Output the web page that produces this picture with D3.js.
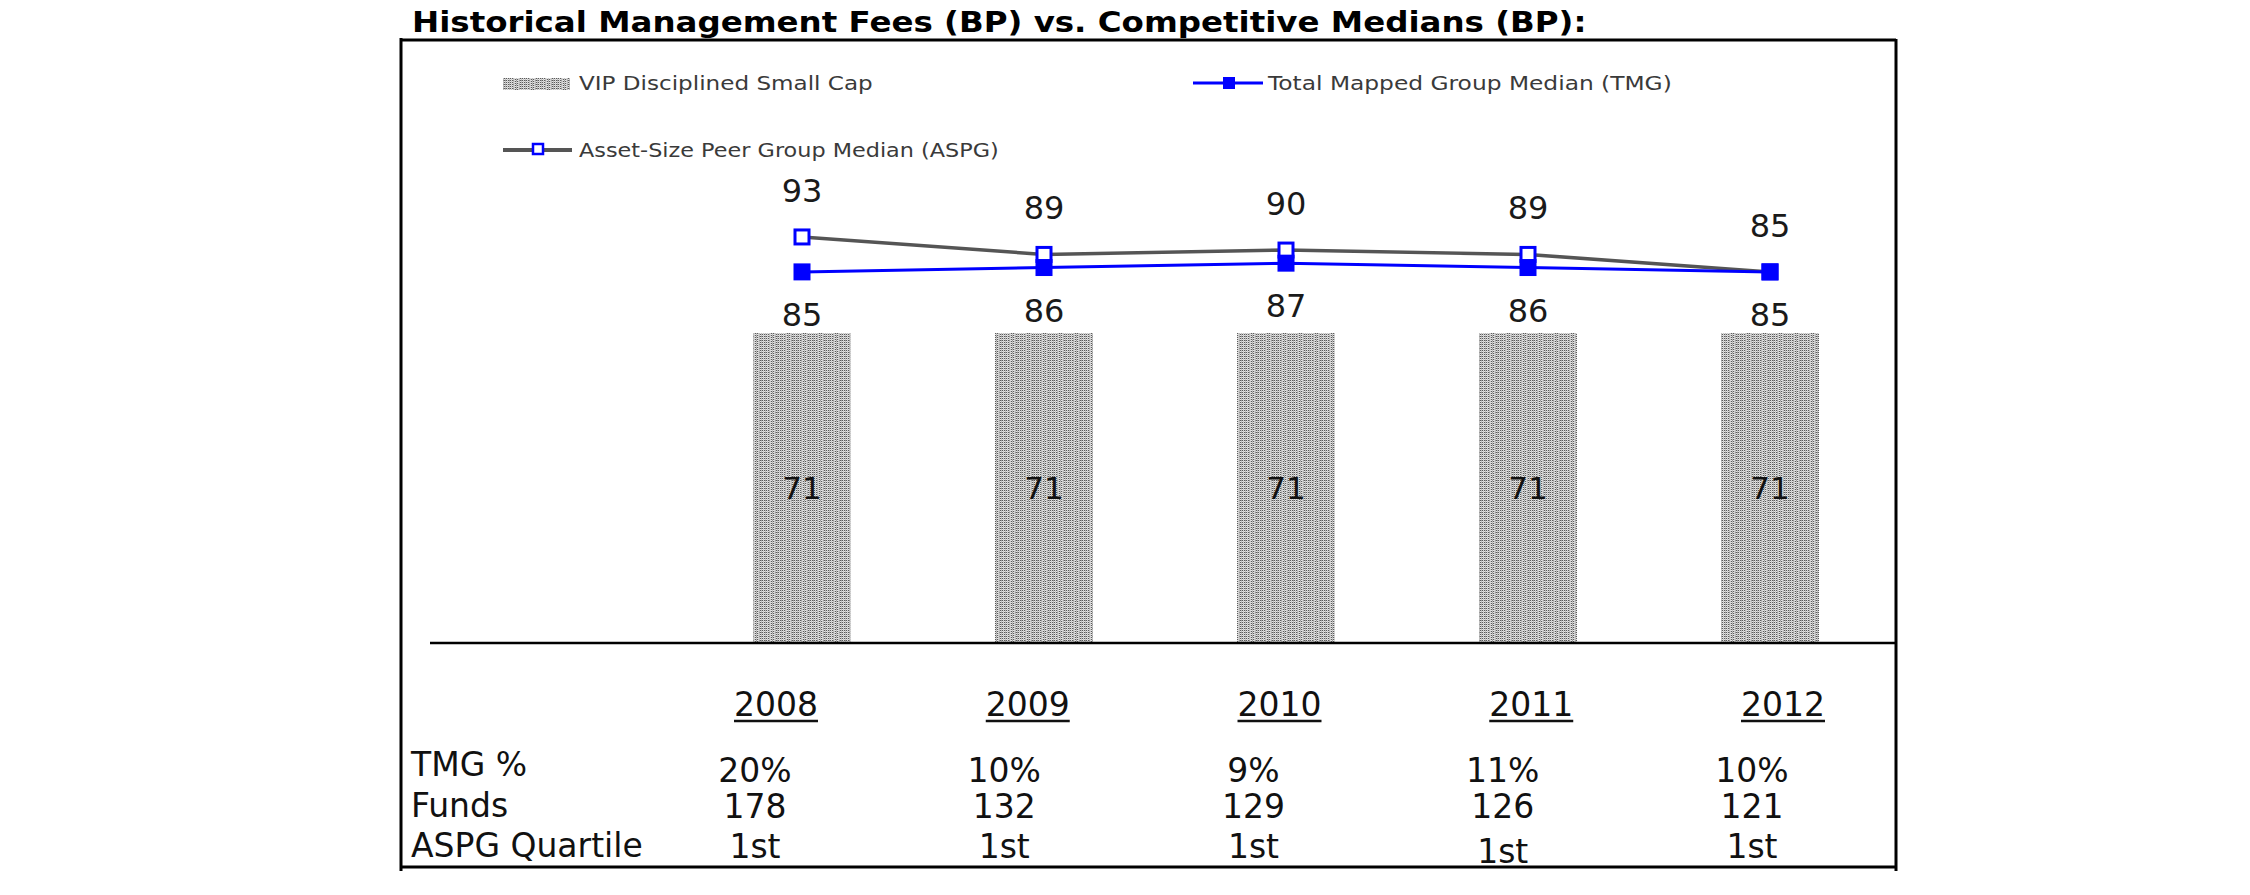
<!DOCTYPE html>
<html>
<head>
<meta charset="utf-8">
<script src="https://cdn.jsdelivr.net/npm/d3@7"></script>
<style>
  html, body { margin: 0; padding: 0; background: #fff; }
  svg { display: block; }
  text { font-family: "DejaVu Sans", Verdana, sans-serif; }
</style>
</head>
<body>
<script>
// ---------------- data ----------------
const years = ["2008", "2009", "2010", "2011", "2012"];
const vipFees = [71, 71, 71, 71, 71];          // VIP Disciplined Small Cap (bars)
const tmgMedian = [85, 86, 87, 86, 85];        // Total Mapped Group Median
const aspgMedian = [93, 89, 90, 89, 85];       // Asset-Size Peer Group Median
const tmgPct = ["20%", "10%", "9%", "11%", "10%"];
const funds = ["178", "132", "129", "126", "121"];
const aspgQuartile = ["1st", "1st", "1st", "1st", "1st"];
const rowLabels = ["TMG %", "Funds", "ASPG Quartile"];
const titleText = "Historical Management Fees (BP) vs. Competitive Medians (BP):";
const legendLabels = ["VIP Disciplined Small Cap", "Total Mapped Group Median (TMG)", "Asset-Size Peer Group Median (ASPG)"];

// ---------------- layout ----------------
const W = 2250, H = 895;
const svg = d3.select("body").append("svg").attr("width", W).attr("height", H);

const frame = { left: 401, right: 1896, top: 40, bottom: 867 };
const axisY = 643;

const x = d3.scaleBand().domain(years).range([681, 1891]).paddingInner(0.595).paddingOuter(0.2975);
const y = d3.scaleLinear().domain([0, 100]).range([axisY, axisY - 436.6]);
const xYear = d3.scalePoint().domain(years).range([776, 1783]);
const xVal = d3.scalePoint().domain(years).range([755, 1752]);

// dithered grey pattern for bars
const defs = svg.append("defs");
const pw = 16, ph = 8;
const pat = defs.append("pattern").attr("id", "dots").attr("patternUnits", "userSpaceOnUse")
  .attr("width", pw).attr("height", ph);
pat.append("rect").attr("width", pw).attr("height", ph).attr("fill", "#cfcfcf");
// column styles: 'c' = checker dark/light, 's' = solid mid grey, 'l' = light
const colKinds = ["c", "s", "l", "c", "s", "c", "l", "s", "c", "s", "c", "l", "c", "s", "c", "l"];
colKinds.forEach((k, cx) => {
  for (let r = 0; r < ph; r++) {
    let fill = null;
    if (k === "c") fill = ((r + cx) % 2 === 0) ? "#5a5a5a" : "#e6e6e6";
    else if (k === "s") fill = (r % 4 === 0) ? "#9a9a9a" : "#bdbdbd";
    else fill = (r % 2 === 0) ? "#d8d8d8" : "#c6c6c6";
    pat.append("rect").attr("x", cx).attr("y", r).attr("width", 1).attr("height", 1).attr("fill", fill);
  }
});

// fit helper: stretch text horizontally to a target width
function fitText(sel, x0, y0, targetW) {
  const w = sel.node().getComputedTextLength();
  const sx = targetW / w;
  sel.attr("x", 0).attr("y", 0).attr("transform", `translate(${x0},${y0}) scale(${sx},1)`);
}

// ---------------- title ----------------
const title = svg.append("text").text(titleText)
  .attr("font-size", 28).attr("font-weight", "bold").attr("fill", "#000");
fitText(title, 412, 32, 1175);

// ---------------- frame ----------------
const fg = svg.append("g").attr("stroke", "#000").attr("stroke-width", 3);
fg.append("line").attr("x1", frame.left).attr("x2", frame.right).attr("y1", frame.top).attr("y2", frame.top);
fg.append("line").attr("x1", frame.left).attr("x2", frame.right + 1).attr("y1", frame.bottom).attr("y2", frame.bottom);
fg.append("line").attr("x1", frame.left).attr("x2", frame.left).attr("y1", frame.top - 2).attr("y2", frame.bottom + 4);
fg.append("line").attr("x1", frame.right).attr("x2", frame.right).attr("y1", frame.top - 1).attr("y2", frame.bottom + 4);

// ---------------- bars ----------------
svg.append("g").selectAll("rect").data(years).join("rect")
  .attr("x", d => x(d)).attr("width", x.bandwidth())
  .attr("y", (d, i) => y(vipFees[i])).attr("height", (d, i) => y(0) - y(vipFees[i]))
  .attr("fill", "url(#dots)");

// x axis line
svg.append("line").attr("x1", 430).attr("x2", frame.right).attr("y1", axisY).attr("y2", axisY)
  .attr("stroke", "#000").attr("stroke-width", 2.5);

// bar labels
svg.append("g").selectAll("text").data(years).join("text")
  .attr("x", d => x(d) + x.bandwidth() / 2)
  .attr("y", (d, i) => (y(vipFees[i]) + y(0)) / 2 + 11)
  .attr("text-anchor", "middle").attr("font-size", 31).attr("fill", "#111")
  .text((d, i) => vipFees[i]);

// ---------------- lines ----------------
const cx = d => x(d) + x.bandwidth() / 2;
const lineGen = arr => d3.line().x(d => cx(d)).y((d, i) => y(arr[i]))(years);

svg.append("path").attr("d", lineGen(aspgMedian)).attr("fill", "none")
  .attr("stroke", "#555").attr("stroke-width", 3.5);
svg.append("path").attr("d", lineGen(tmgMedian)).attr("fill", "none")
  .attr("stroke", "#0000ff").attr("stroke-width", 3);

const mk = 14;
svg.append("g").selectAll("rect").data(years).join("rect")
  .attr("x", d => cx(d) - mk / 2).attr("y", (d, i) => y(aspgMedian[i]) - mk / 2)
  .attr("width", mk).attr("height", mk)
  .attr("fill", "#fff").attr("stroke", "#0000ff").attr("stroke-width", 3);
svg.append("g").selectAll("rect").data(years).join("rect")
  .attr("x", d => cx(d) - 8.5).attr("y", (d, i) => y(tmgMedian[i]) - 8.5)
  .attr("width", 17).attr("height", 17).attr("fill", "#0000ff");

// line labels
svg.append("g").selectAll("text").data(years).join("text")
  .attr("x", d => cx(d)).attr("y", (d, i) => y(aspgMedian[i]) - 47 + 12)
  .attr("text-anchor", "middle").attr("font-size", 32).attr("fill", "#1a1a1a")
  .text((d, i) => aspgMedian[i]);
svg.append("g").selectAll("text").data(years).join("text")
  .attr("x", d => cx(d)).attr("y", (d, i) => y(tmgMedian[i]) + 42 + 12)
  .attr("text-anchor", "middle").attr("font-size", 32).attr("fill", "#1a1a1a")
  .text((d, i) => tmgMedian[i]);

// ---------------- legend ----------------
const lg = svg.append("g");
lg.append("rect").attr("x", 503).attr("y", 78).attr("width", 67).attr("height", 12).attr("fill", "url(#dots)");
const l1 = lg.append("text").text(legendLabels[0]).attr("font-size", 19).attr("fill", "#3a3a3a");
fitText(l1, 579, 90, 294);

lg.append("line").attr("x1", 1193).attr("x2", 1263).attr("y1", 83).attr("y2", 83).attr("stroke", "#0000ff").attr("stroke-width", 3);
lg.append("rect").attr("x", 1223).attr("y", 77).attr("width", 12).attr("height", 12).attr("fill", "#0000ff");
const l2 = lg.append("text").text(legendLabels[1]).attr("font-size", 19).attr("fill", "#3a3a3a");
fitText(l2, 1268, 90, 404);

lg.append("line").attr("x1", 503).attr("x2", 572).attr("y1", 150).attr("y2", 150).attr("stroke", "#555").attr("stroke-width", 4);
lg.append("rect").attr("x", 533).attr("y", 144).attr("width", 10).attr("height", 10).attr("fill", "#fff").attr("stroke", "#0000ff").attr("stroke-width", 2.5);
const l3 = lg.append("text").text(legendLabels[2]).attr("font-size", 19).attr("fill", "#3a3a3a");
fitText(l3, 579, 157, 420);

// ---------------- table ----------------
const tg = svg.append("g").attr("fill", "#111").attr("font-size", 33);
const yearText = tg.selectAll("text.year").data(years).join("text").attr("class", "year")
  .attr("x", d => xYear(d)).attr("y", 716).attr("text-anchor", "middle").text(d => d);
yearText.each(function (d) {
  const b = this.getBBox();
  tg.append("line").attr("x1", b.x).attr("x2", b.x + b.width).attr("y1", 721).attr("y2", 721)
    .attr("stroke", "#111").attr("stroke-width", 2.5);
});

const rowBase = [776, 817, 857];
const valBase = [782, 818, 858];
tg.selectAll("text.rl").data(rowLabels).join("text").attr("class", "rl")
  .attr("x", 411).attr("y", (d, i) => rowBase[i]).text(d => d);

[tmgPct, funds, aspgQuartile].forEach((arr, r) => {
  tg.selectAll(`text.v${r}`).data(years).join("text").attr("class", `v${r}`)
    .attr("x", d => xVal(d)).attr("y", (d, i) => valBase[r] + (r === 2 && i === 3 ? 5 : 0))
    .attr("text-anchor", "middle").text((d, i) => arr[i]);
});
</script>
</body>
</html>
